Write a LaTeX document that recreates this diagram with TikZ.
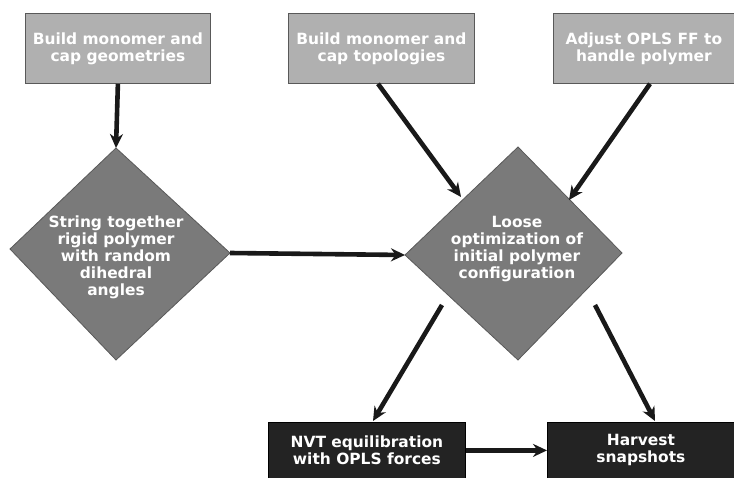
\documentclass[tikz,border=0pt]{standalone}
\usepackage{fontspec}
\setmainfont{DejaVu Sans}
\usetikzlibrary{shapes.geometric,arrows.meta}
\definecolor{lightbox}{HTML}{B0B0B0}
\definecolor{midbox}{HTML}{7A7A7A}
\definecolor{darkbox}{HTML}{232323}
\begin{document}
\begin{tikzpicture}[x=1bp,y=-1bp,
  txt/.style={text=white,font=\bfseries\fontsize{15.5}{17}\selectfont,align=center},
  lbox/.style={txt,fill=lightbox,draw=black!65,line width=0.8bp,inner sep=0pt,anchor=north west},
  dbox/.style={txt,fill=darkbox,draw=black,line width=0.8bp,inner sep=0pt,anchor=north west},
  flow/.style={-{Stealth[length=14bp,width=13bp]},line width=4.6bp,draw=black!90}
]
\useasboundingbox (0,0) rectangle (734,478);
\node[lbox,minimum width=185bp,minimum height=70bp] (b1) at (25,13) {Build monomer and\\cap geometries};
\node[lbox,minimum width=186bp,minimum height=70bp] (b2) at (288,13) {Build monomer and\\cap topologies};
\node[lbox,minimum width=181bp,minimum height=70bp] (b3) at (553,13) {Adjust OPLS FF to\\handle polymer};
\draw[fill=midbox,draw=black!65,line width=0.8bp] (116,148) -- (230,253) -- (116,360) -- (10,249) -- cycle;
\node[txt] (d1) at (116,257) {String together\\rigid polymer\\with random\\dihedral\\angles};
\coordinate (d1t) at (116,148);
\coordinate (d1r) at (230,253);
\draw[fill=midbox,draw=black!65,line width=0.8bp] (518,147) -- (622,253) -- (518,360) -- (405,255) -- cycle;
\node[txt] (d2) at (517,249) {Loose\\optimization of\\initial polymer\\configuration};
\coordinate (d2l) at (405,255);
\coordinate (d2ul) at (461,197);
\coordinate (d2ur) at (569,200);
\coordinate (d2ll) at (442,305);
\coordinate (d2lr) at (595,305);
\node[dbox,minimum width=197bp,minimum height=56bp] (n1) at (268,422) {NVT equilibration\\with OPLS forces};
\node[dbox,minimum width=187bp,minimum height=56bp] (n2) at (547,422) {Harvest\\snapshots};
\draw[flow] (b1.south) -- (d1t);
\draw[flow] (b2.south west) ++(90,0) coordinate (s2) -- (d2ul);
\draw[flow] (b3.south west) ++(97,0) coordinate (s3) -- (d2ur);
\draw[flow] (d1r) -- (d2l);
\draw[flow] (d2ll) -- (373,421) coordinate (t1);
\draw[flow] (d2lr) -- (655,421) coordinate (t2);
\draw[flow] (n1.east) -- (n2.west);
\end{tikzpicture}
\end{document}
